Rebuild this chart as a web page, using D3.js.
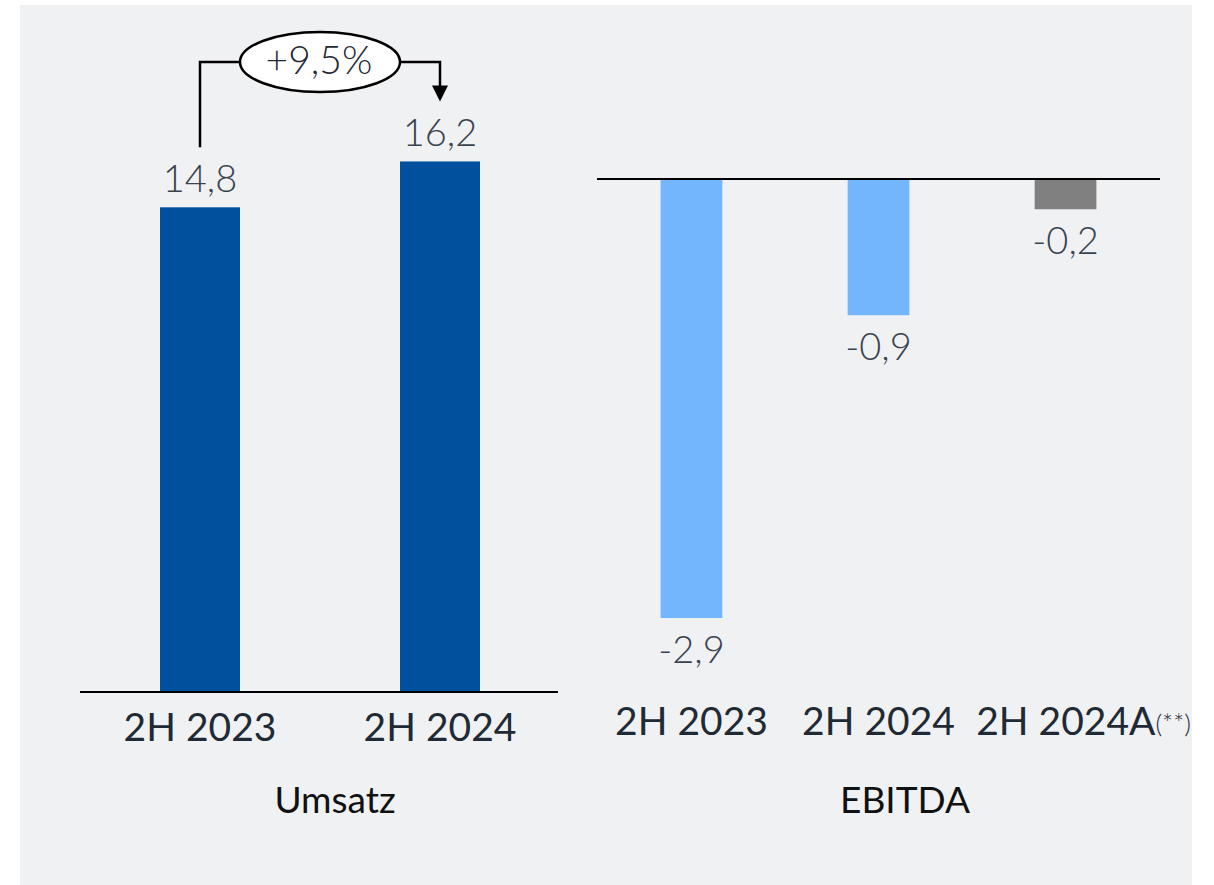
<!DOCTYPE html>
<html>
<head>
<meta charset="utf-8">
<script src="https://cdn.jsdelivr.net/npm/d3@7"></script>
<style>
  body { margin: 0; background: #ffffff; }
  text { font-family: Lato, "Open Sans", sans-serif; }
</style>
</head>
<body>
<div id="chart"></div>
<script>
// data
const umsatzCats = ["2H 2023", "2H 2024"];
const umsatzValues = [14.8, 16.2];
const ebitdaCats = ["2H 2023", "2H 2024", "2H 2024A"];
const ebitdaValues = [-2.9, -0.9, -0.2];
const ebitdaColors = ["#74b6fe", "#74b6fe", "#808080"];
const growthLabel = "+9,5%";
const titles = ["Umsatz", "EBITDA"];

// German decimal comma, plain hyphen for minus
const fmt = v => d3.format(".1f")(v).replace(".", ",").replace("\u2212", "-");

const width = 1214, height = 885;
const svg = d3.select("#chart").append("svg")
    .attr("width", width)
    .attr("height", height);

// panel
svg.append("rect")
    .attr("x", 20).attr("y", 5)
    .attr("width", 1172).attr("height", 880)
    .attr("fill", "#f0f1f3");

const valueColor = "#39434e";
const catColor = "#1f2a35";

// ---------- Umsatz ----------
const xL = d3.scaleBand().domain(umsatzCats).range([80, 560])
    .paddingInner(2 / 3).paddingOuter(1 / 3);
const yL = d3.scaleLinear().domain([0, 20]).range([692, 37]);

svg.append("g").selectAll("rect")
    .data(umsatzValues)
    .join("rect")
    .attr("x", (d, i) => xL(umsatzCats[i]))
    .attr("y", d => yL(d))
    .attr("width", xL.bandwidth())
    .attr("height", d => yL(0) - yL(d))
    .attr("fill", "#00509e");

svg.append("line")
    .attr("x1", 80).attr("x2", 558)
    .attr("y1", yL(0)).attr("y2", yL(0))
    .attr("stroke", "#000").attr("stroke-width", 2);

svg.append("g").selectAll("text")
    .data(umsatzValues)
    .join("text")
    .attr("x", (d, i) => xL(umsatzCats[i]) + xL.bandwidth() / 2)
    .attr("y", d => yL(d) - 15)
    .attr("text-anchor", "middle")
    .attr("font-size", 38)
    .attr("font-weight", 300)
    .attr("fill", valueColor)
    .text(d => fmt(d));

svg.append("g").selectAll("text")
    .data(umsatzCats)
    .join("text")
    .attr("x", d => xL(d) + xL.bandwidth() / 2)
    .attr("y", 741)
    .attr("text-anchor", "middle")
    .attr("font-size", 39)
    .attr("fill", catColor)
    .text(d => d);

svg.append("text")
    .attr("x", 335).attr("y", 813)
    .attr("text-anchor", "middle")
    .attr("font-size", 37)
    .attr("fill", "#111")
    .text(titles[0]);

// growth annotation
const cx0 = xL(umsatzCats[0]) + xL.bandwidth() / 2;
const cx1 = xL(umsatzCats[1]) + xL.bandwidth() / 2;
const lineY = 62;
const ell = { cx: (cx0 + cx1) / 2, rx: 80, ry: 30 };

svg.append("path")
    .attr("d", `M${cx0},${yL(umsatzValues[0]) - 60} V${lineY} H${ell.cx - ell.rx}`)
    .attr("fill", "none").attr("stroke", "#000").attr("stroke-width", 2.5);
svg.append("path")
    .attr("d", `M${ell.cx + ell.rx},${lineY} H${cx1} V${yL(umsatzValues[1]) - 74}`)
    .attr("fill", "none").attr("stroke", "#000").attr("stroke-width", 2.5);
const tipY = yL(umsatzValues[1]) - 60;
svg.append("path")
    .attr("d", `M${cx1 - 8},${tipY - 16} L${cx1 + 8},${tipY - 16} L${cx1},${tipY} Z`)
    .attr("fill", "#000");
svg.append("ellipse")
    .attr("cx", ell.cx).attr("cy", lineY)
    .attr("rx", ell.rx).attr("ry", ell.ry)
    .attr("fill", "#fff").attr("stroke", "#000").attr("stroke-width", 2.5);
svg.append("text")
    .attr("x", ell.cx - 1).attr("y", lineY + 12)
    .attr("text-anchor", "middle")
    .attr("font-size", 39)
    .attr("font-weight", 300)
    .attr("fill", "#1f2833")
    .text(growthLabel);

// ---------- EBITDA ----------
const xR = d3.scaleBand().domain(ebitdaCats).range([597, 1160])
    .paddingInner(0.67).paddingOuter(0.34);
const yR = d3.scaleLinear().domain([0, -2.9]).range([179, 618]);

svg.append("g").selectAll("rect")
    .data(ebitdaValues)
    .join("rect")
    .attr("x", (d, i) => xR(ebitdaCats[i]))
    .attr("y", yR(0))
    .attr("width", xR.bandwidth())
    .attr("height", d => yR(d) - yR(0))
    .attr("fill", (d, i) => ebitdaColors[i]);

svg.append("line")
    .attr("x1", 597).attr("x2", 1160)
    .attr("y1", yR(0)).attr("y2", yR(0))
    .attr("stroke", "#000").attr("stroke-width", 2);

svg.append("g").selectAll("text")
    .data(ebitdaValues)
    .join("text")
    .attr("x", (d, i) => xR(ebitdaCats[i]) + xR.bandwidth() / 2)
    .attr("y", d => yR(d) + 45)
    .attr("text-anchor", "middle")
    .attr("font-size", 38)
    .attr("font-weight", 300)
    .attr("fill", valueColor)
    .text(d => fmt(d));

const catR = svg.append("g").selectAll("text")
    .data(ebitdaCats)
    .join("text")
    .attr("x", (d, i) => xR(d) + xR.bandwidth() / 2 + (i === 2 ? 18 : 0))
    .attr("y", 735)
    .attr("text-anchor", "middle")
    .attr("font-size", 39)
    .attr("fill", catColor)
    .text(d => d);
catR.filter((d, i) => i === 2)
    .append("tspan")
    .attr("font-size", 26)
    .attr("font-weight", 300)
    .attr("dy", -2)
    .text("(**)");

svg.append("text")
    .attr("x", 905).attr("y", 813)
    .attr("text-anchor", "middle")
    .attr("font-size", 37)
    .attr("fill", "#111")
    .text(titles[1]);
</script>
</body>
</html>
